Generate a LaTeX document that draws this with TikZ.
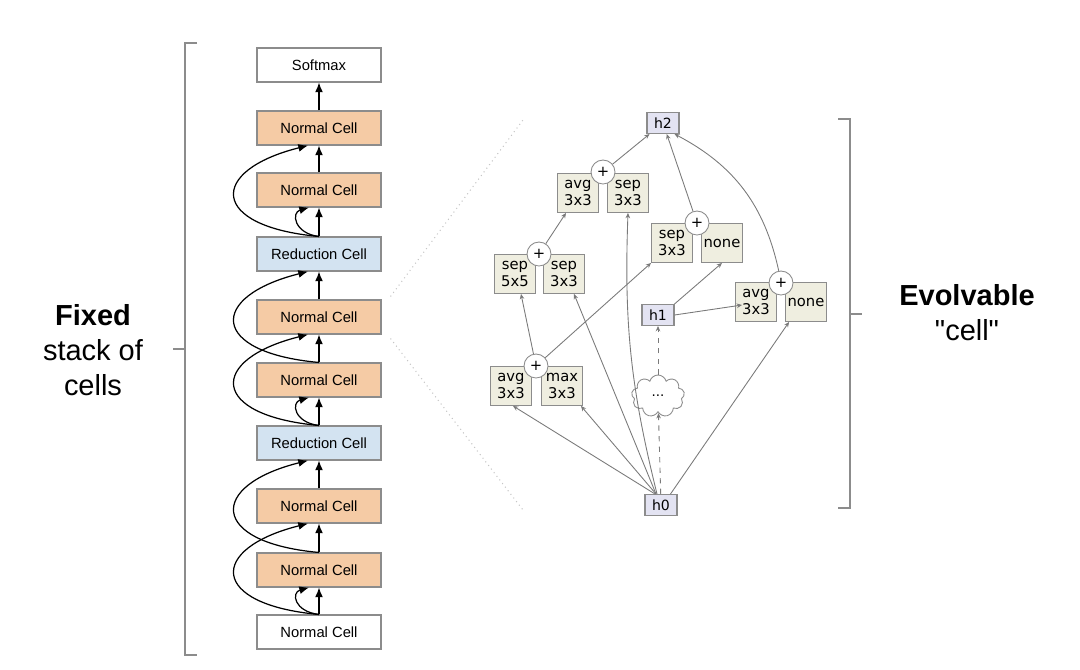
\documentclass[tikz,border=0pt]{standalone}
\usepackage{fontspec}
\setmainfont{Liberation Sans}
\newfontfamily\opfont{DejaVu Sans}
\usepackage{xcolor}
\usepackage{tikz}
\usetikzlibrary{shapes.geometric, shapes.symbols, arrows.meta, positioning, calc}

\definecolor{cellorange}{HTML}{F5CBA5}
\definecolor{cellblue}{HTML}{D3E3F1}
\definecolor{opfill}{HTML}{EFEEE0}
\definecolor{hfill}{HTML}{E3E3F2}
\definecolor{framegray}{HTML}{8C8C8C}
\definecolor{edgegray}{HTML}{7A7A7A}

\tikzset{
  cellbox/.style={draw=framegray, line width=0.6pt, minimum width=2.48cm, minimum height=0.68cm,
    font=\fontsize{8.4}{10}\selectfont, fill=white},
  normalcell/.style={cellbox, fill=cellorange},
  redcell/.style={cellbox, fill=cellblue},
  stackarrow/.style={-{Latex[length=5.5pt,width=4.5pt]}, line width=0.7pt, black},
  opbox/.style={draw=framegray, fill=opfill, line width=0.5pt, minimum width=0.82cm, minimum height=0.78cm,
    inner sep=1pt, align=center, font=\opfont\fontsize{8.4}{9.8}\selectfont},
  hbox/.style={draw=framegray, fill=hfill, line width=0.6pt, minimum width=0.64cm, minimum height=0.42cm,
    inner sep=1pt, font=\opfont\fontsize{8}{9}\selectfont},
  addnode/.style={circle, draw=framegray, fill=white, line width=0.5pt, minimum size=0.48cm, inner sep=0pt,
    font=\opfont\fontsize{8.4}{9}\selectfont},
  edge/.style={-{Stealth[length=3pt,width=2.6pt]}, edgegray, line width=0.5pt},
  bracket/.style={framegray, line width=0.7pt},
  bigtext/.style={align=center, font=\fontsize{16.5}{19.8}\selectfont}
}

\begin{document}
\begin{tikzpicture}[x=0.02cm, y=-0.02cm]
  \useasboundingbox (0,0) rectangle (1080,670);

  % fixed stack
  \node[cellbox]    (soft) at (319, 65) {Softmax};
  \node[normalcell] (nc1)  at (319,128) {Normal Cell};
  \node[normalcell] (nc2)  at (319,190) {Normal Cell};
  \node[redcell]    (rc1)  at (319,254) {Reduction Cell};
  \node[normalcell] (nc3)  at (319,317) {Normal Cell};
  \node[normalcell] (nc4)  at (319,380) {Normal Cell};
  \node[redcell]    (rc2)  at (319,443) {Reduction Cell};
  \node[normalcell] (nc5)  at (319,506) {Normal Cell};
  \node[normalcell] (nc6)  at (319,570) {Normal Cell};
  \node[cellbox]    (nc0)  at (319,632) {Normal Cell};

  \draw[stackarrow] (nc0) -- (nc6); \draw[stackarrow] (nc6) -- (nc5); \draw[stackarrow] (nc5) -- (rc2);
  \draw[stackarrow] (rc2) -- (nc4); \draw[stackarrow] (nc4) -- (nc3); \draw[stackarrow] (nc3) -- (rc1);
  \draw[stackarrow] (rc1) -- (nc2); \draw[stackarrow] (nc2) -- (nc1); \draw[stackarrow] (nc1) -- (soft);

  % skip connections, long
  \draw[stackarrow] (nc0.north) .. controls +(-110,-10) and +(-100,25) .. ($(nc5.south)+(-11,0)$);
  \draw[stackarrow] (nc6.north) .. controls +(-110,-10) and +(-100,25) .. ($(rc2.south)+(-11,0)$);
  \draw[stackarrow] (rc2.north) .. controls +(-110,-10) and +(-100,25) .. ($(nc3.south)+(-11,0)$);
  \draw[stackarrow] (nc4.north) .. controls +(-110,-10) and +(-100,25) .. ($(rc1.south)+(-11,0)$);
  \draw[stackarrow] (rc1.north) .. controls +(-110,-10) and +(-100,25) .. ($(nc1.south)+(-11,0)$);
  % skip connections, short
  \draw[stackarrow] (nc0.north) .. controls +(-25,-3) and +(-18,5) .. ($(nc6.south)+(-10,0)$);
  \draw[stackarrow] (rc2.north) .. controls +(-25,-3) and +(-18,5) .. ($(nc4.south)+(-10,0)$);
  \draw[stackarrow] (rc1.north) .. controls +(-25,-3) and +(-18,5) .. ($(nc2.south)+(-10,0)$);

  % brackets and captions
  \draw[bracket] (197,43) -- (185,43) -- (185,655) -- (197,655);
  \draw[bracket] (185,349) -- (173,349);
  \draw[bracket] (838,119) -- (850,119) -- (850,508) -- (838,508);
  \draw[bracket] (850,314) -- (862,314);
  \node[bigtext] (fixed) at (93,350) {\textbf{Fixed}\\stack of\\cells};
  \node[bigtext] (evolv) at (967,313) {\textbf{Evolvable}\\\textquotedbl cell\textquotedbl};

  % zoom lines
  \coordinate (zt) at (523,120);
  \coordinate (zb) at (523,510);
  \draw[gray!45, dotted, line width=0.6pt] ($(nc3.north east)+(9,-3)$) -- (zt);
  \draw[gray!45, dotted, line width=0.6pt] ($(nc3.south east)+(9,4)$) -- (zb);

  % evolvable cell
  \node[hbox] (h2) at (663,123) {h2};
  \node[hbox] (h1) at (658,315) {h1};
  \node[hbox] (h0) at (661,505) {h0};
  \node[opbox] (avg1)  at (578,193) {avg\\3x3};
  \node[opbox] (sepA)  at (628,193) {sep\\3x3};
  \node[opbox] (sep55) at (515,274) {sep\\5x5};
  \node[opbox] (sepB)  at (564,274) {sep\\3x3};
  \node[opbox] (sepC)  at (672,243) {sep\\3x3};
  \node[opbox] (noneA) at (722,243) {none};
  \node[opbox] (avg2)  at (756,302) {avg\\3x3};
  \node[opbox] (noneB) at (806,302) {none};
  \node[opbox] (avg3)  at (511,386) {avg\\3x3};
  \node[opbox] (max)   at (562,386) {max\\3x3};
  \node[cloud, cloud puffs=9, aspect=1.3, draw=framegray, fill=white, line width=0.5pt,
        minimum width=1.06cm, minimum height=0.84cm, font=\opfont\fontsize{7.6}{9}\selectfont] (cloud) at (658,396) {...};
  \node[addnode] (plus1) at (603,172) {+};
  \node[addnode] (plus2) at (539,254) {+};
  \node[addnode] (plus3) at (697,223) {+};
  \node[addnode] (plus4) at (781,283) {+};
  \node[addnode] (plus5) at (536,366) {+};

  \draw[edge] (plus1) -- (h2); \draw[edge] (plus3) -- (h2);
  \draw[edge] (plus4) to[bend right=25] ($(h2.south east)+(-5,0)$);
  \draw[edge] (plus2) -- ($(avg1.south)+(-12,0)$);
  \draw[edge] (plus5) -- ($(sep55.south)+(6,0)$);
  \draw[edge] (plus5) -- (sepC.south west);
  \draw[edge] (h1.north east) -- (noneA.south);
  \draw[edge] (h1.east) -- ($(avg2.west)+(7,3)$);
  \draw[edge] ($(h0.north)+(-4,0)$) to[bend left=8] (sepA.south);
  \draw[edge] ($(h0.north)+(-5,0)$) -- ($(sepB.south)+(10,0)$);
  \draw[edge] ($(h0.north)+(-6,0)$) -- ($(avg3.south)+(2,0)$);
  \draw[edge] ($(h0.north)+(-5,0)$) -- ($(max.south east)+(-2,0)$);
  \draw[edge] ($(h0.north east)+(-7,0)$) -- ($(noneB.south west)+(4,0)$);
  \draw[edge, dashed] (h0) -- (cloud); \draw[edge, dashed] (cloud) -- (h1);
\end{tikzpicture}
\end{document}
